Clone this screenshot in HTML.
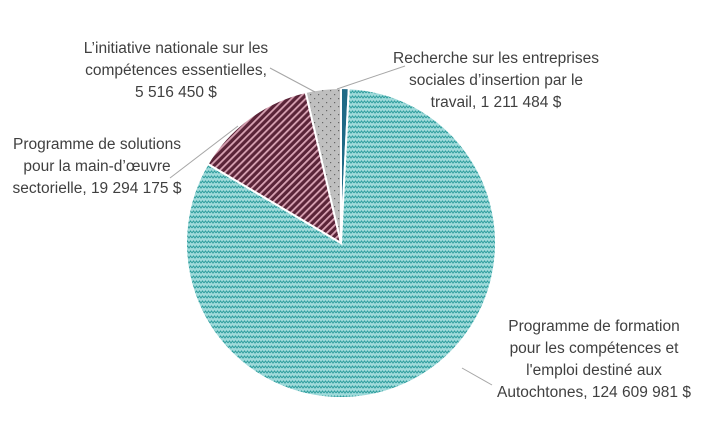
<!DOCTYPE html>
<html><head><meta charset="utf-8"><style>
body{margin:0;background:#fff;}
svg{display:block;font-family:"Liberation Sans",sans-serif;}
text{fill:#404040;font-size:15.5px;}
</style></head><body>
<svg width="724" height="438">
<defs>
<pattern id="zig" width="6" height="5" patternUnits="userSpaceOnUse">
<rect width="6" height="5" fill="#9fdada"/>
<path d="M0 3 L1.5 1 L3 3 L4.5 1 L6 3" stroke="#2f9e9e" stroke-width="1" fill="none"/>
</pattern>
<pattern id="stripe" width="5" height="5" patternUnits="userSpaceOnUse" patternTransform="rotate(45)">
<rect width="5" height="5" fill="#5a2438"/>
<rect width="1.8" height="5" fill="#d9a3b4"/>
</pattern>
<pattern id="dots" width="8" height="8" patternUnits="userSpaceOnUse">
<rect width="8" height="8" fill="#bfbfbf"/>
<rect x="2" y="2" width="1.2" height="1.2" fill="#666"/>
<rect x="6" y="6" width="1.2" height="1.2" fill="#666"/>
</pattern>
</defs>
<g id="slices"></g>
<g id="leaders" stroke="#a6a6a6" stroke-width="1" fill="none">
<line x1="337" y1="89" x2="405" y2="66"/>
<line x1="315" y1="92" x2="270" y2="68"/>
<line x1="238" y1="126" x2="170" y2="178"/>
<line x1="462" y1="368" x2="492" y2="385"/>
</g>
<text text-anchor="middle"><tspan x="176" y="53">L’initiative nationale sur les</tspan><tspan x="176" y="75">compétences essentielles,</tspan><tspan x="176" y="97">5 516 450 $</tspan></text>
<text text-anchor="middle"><tspan x="496" y="63">Recherche sur les entreprises</tspan><tspan x="496" y="85">sociales d’insertion par le</tspan><tspan x="496" y="107">travail, 1 211 484 $</tspan></text>
<text text-anchor="middle"><tspan x="97" y="149">Programme de solutions</tspan><tspan x="97" y="171">pour la main-d’œuvre</tspan><tspan x="97" y="193">sectorielle, 19 294 175 $</tspan></text>
<text text-anchor="middle"><tspan x="594" y="331">Programme de formation</tspan><tspan x="594" y="353">pour les compétences et</tspan><tspan x="594" y="375">l'emploi destiné aux</tspan><tspan x="594" y="397">Autochtones, 124 609 981 $</tspan></text>
</svg>
<script>
const categories=["Recherche","Formation","Solutions","Initiative"];
const values=[1211484,124609981,19294175,5516450];
const fills=["#1f6a86","url(#zig)","url(#stripe)","url(#dots)"];
const cx=341,cy=243,r=155;
const total=values.reduce((a,b)=>a+b,0);
let a=-Math.PI/2;
const g=document.getElementById('slices');
values.forEach((v,i)=>{
  const a2=a+v/total*2*Math.PI;
  const x1=cx+r*Math.cos(a),y1=cy+r*Math.sin(a),x2=cx+r*Math.cos(a2),y2=cy+r*Math.sin(a2);
  const p=document.createElementNS('http://www.w3.org/2000/svg','path');
  p.setAttribute('d',`M${cx} ${cy} L${x1} ${y1} A${r} ${r} 0 ${a2-a>Math.PI?1:0} 1 ${x2} ${y2} Z`);
  p.setAttribute('fill',fills[i]);
  p.setAttribute('stroke','#fff');
  p.setAttribute('stroke-width','2');
  
  
  g.appendChild(p);
  a=a2;
});
</script>
</body></html>
